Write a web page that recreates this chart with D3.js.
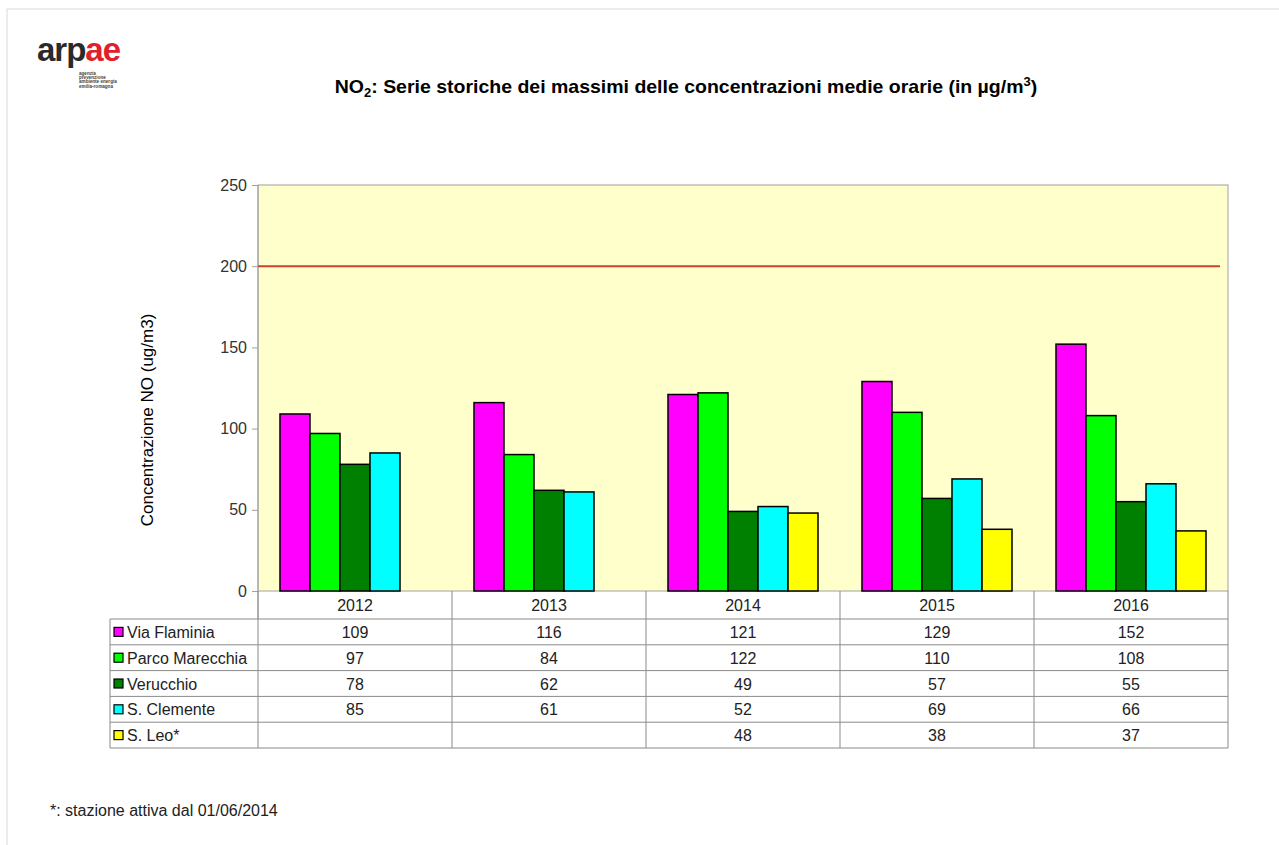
<!DOCTYPE html>
<html>
<head>
<meta charset="utf-8">
<script src="https://cdn.jsdelivr.net/npm/d3@7"></script>
<style>
  body { margin: 0; background: #fff; }
  svg { display: block; font-family: "Liberation Sans", Arial, sans-serif; }
</style>
</head>
<body>
<div id="chart"></div>
<script>
// data
const years = ["2012", "2013", "2014", "2015", "2016"];
const stations = ["Via Flaminia", "Parco Marecchia", "Verucchio", "S. Clemente", "S. Leo*"];
const stationColors = ["#ff00ff", "#00ff00", "#008000", "#00ffff", "#ffff00"];
const viaFlaminia = [109, 116, 121, 129, 152];
const parcoMarecchia = [97, 84, 122, 110, 108];
const verucchio = [78, 62, 49, 57, 55];
const sClemente = [85, 61, 52, 69, 66];
const sLeo = [null, null, 48, 38, 37];
const limitValue = 200;
const yTicks = [0, 50, 100, 150, 200, 250];

const seriesValues = [viaFlaminia, parcoMarecchia, verucchio, sClemente, sLeo];

const width = 1279, height = 845;
const plot = { left: 258, right: 1228, top: 185, bottom: 591 };
const rowH = 25.8, headerH = 28, tableLeft = 110;
const textColor = "#222";

const svg = d3.select("#chart").append("svg")
  .attr("width", width)
  .attr("height", height);

// page border (top and left)
svg.append("path")
  .attr("d", `M7,${height} V9 H${width}`)
  .attr("fill", "none")
  .attr("stroke", "#d8d8d8");

// logo
const logo = svg.append("g").attr("transform", "translate(37,61)");
const defs = svg.append("defs");
const grad = defs.append("linearGradient").attr("id", "flag");
grad.append("stop").attr("offset", "0%").attr("stop-color", "#1a9a3a");
grad.append("stop").attr("offset", "45%").attr("stop-color", "#1a9a3a");
grad.append("stop").attr("offset", "55%").attr("stop-color", "#e0202a");
grad.append("stop").attr("offset", "100%").attr("stop-color", "#e0202a");
const logoText = logo.append("text")
  .attr("font-size", 33).attr("font-weight", "bold").attr("letter-spacing", -1);
logoText.append("tspan").attr("fill", "#2a2a2a").text("arp");
logoText.append("tspan").attr("fill", "url(#flag)").text("a");
logoText.append("tspan").attr("fill", "#e0202a").text("e");
["agenzia", "prevenzione", "ambiente energia", "emilia-romagna"].forEach((t, i) => {
  logo.append("text")
    .attr("x", 42).attr("y", 14 + i * 4.2)
    .attr("font-size", 4.6).attr("font-weight", "bold").attr("fill", "#444")
    .text(t);
});

// title
const title = svg.append("text")
  .attr("x", 686).attr("y", 93)
  .attr("text-anchor", "middle")
  .attr("font-size", 18).attr("font-weight", "bold")
  .attr("fill", "#000");
title.append("tspan").text("NO");
title.append("tspan").attr("font-size", 12).attr("dy", 4).text("2");
title.append("tspan").attr("dy", -4).text(": Serie storiche dei massimi delle concentrazioni medie orarie (in µg/m");
title.append("tspan").attr("font-size", 12).attr("dy", -7).text("3");
title.append("tspan").attr("dy", 7).text(")");
{
  const bb = title.node().getBBox();
  const k = 703 / bb.width;
  title.attr("transform", `translate(686,0) scale(${k},1) translate(-686,0)`);
}

// scales
const x = d3.scaleBand().domain(years).range([plot.left, plot.right]).paddingInner(0).paddingOuter(0);
const xs = d3.scaleBand().domain(stations).range([0, x.bandwidth()]).paddingInner(0).paddingOuter(0.733);
const y = d3.scaleLinear().domain([0, 250]).range([plot.bottom, plot.top]);

// plot background
svg.append("rect")
  .attr("x", plot.left).attr("y", plot.top)
  .attr("width", plot.right - plot.left).attr("height", plot.bottom - plot.top)
  .attr("fill", "#ffffcc")
  .attr("stroke", "#a0a0a0");

// y axis
const gy = svg.append("g")
  .attr("transform", `translate(${plot.left},0)`)
  .call(d3.axisLeft(y).tickValues(yTicks).tickSize(6).tickPadding(5));
gy.select(".domain").attr("stroke", "#a0a0a0").attr("d", `M0,${plot.top}V${plot.bottom + headerH}`);
gy.selectAll(".tick line").attr("stroke", "#a0a0a0");
gy.selectAll(".tick text")
  .attr("font-size", 16).attr("fill", "#333")
  .attr("font-family", "Liberation Sans, Arial, sans-serif");

svg.append("text")
  .attr("transform", `translate(153,420) rotate(-90)`)
  .attr("text-anchor", "middle")
  .attr("font-size", 17).attr("fill", "#000")
  .text("Concentrazione NO (ug/m3)");

// limit line
svg.append("line")
  .attr("x1", plot.left).attr("x2", 1220)
  .attr("y1", y(limitValue)).attr("y2", y(limitValue))
  .attr("stroke", "#d0402e").attr("stroke-width", 2);

// bars
const bars = [];
seriesValues.forEach((vals, si) => {
  vals.forEach((v, yi) => {
    if (v != null) bars.push({ year: years[yi], station: stations[si], color: stationColors[si], value: v });
  });
});
svg.append("g").selectAll("rect")
  .data(bars)
  .join("rect")
  .attr("x", d => x(d.year) + xs(d.station))
  .attr("y", d => y(d.value))
  .attr("width", xs.bandwidth())
  .attr("height", d => y(0) - y(d.value))
  .attr("fill", d => d.color)
  .attr("stroke", "#000")
  .attr("stroke-width", 1.5);

// data table
const table = svg.append("g");
const tableTop = plot.bottom + headerH;
const tableBottom = tableTop + rowH * stations.length;
const lineColor = "#8a8a8a";

// horizontal lines
for (let i = 0; i <= stations.length; i++) {
  table.append("line")
    .attr("x1", tableLeft).attr("x2", plot.right)
    .attr("y1", tableTop + i * rowH).attr("y2", tableTop + i * rowH)
    .attr("stroke", lineColor);
}
// vertical lines
table.append("line")
  .attr("x1", tableLeft).attr("x2", tableLeft)
  .attr("y1", tableTop).attr("y2", tableBottom)
  .attr("stroke", lineColor);
years.forEach(yr => {
  table.append("line")
    .attr("x1", x(yr) + x.bandwidth()).attr("x2", x(yr) + x.bandwidth())
    .attr("y1", plot.bottom).attr("y2", tableBottom)
    .attr("stroke", lineColor);
});
table.append("line")
  .attr("x1", plot.left).attr("x2", plot.left)
  .attr("y1", plot.bottom).attr("y2", tableBottom)
  .attr("stroke", lineColor);

// year header
table.selectAll("text.year")
  .data(years)
  .join("text")
  .attr("class", "year")
  .attr("x", d => x(d) + x.bandwidth() / 2)
  .attr("y", plot.bottom + headerH / 2 + 6)
  .attr("text-anchor", "middle")
  .attr("font-size", 16).attr("fill", textColor)
  .text(d => d);

// legend keys & labels
stations.forEach((s, i) => {
  const cy = tableTop + i * rowH + rowH / 2;
  table.append("rect")
    .attr("x", 114).attr("y", cy - 4.5)
    .attr("width", 9).attr("height", 9)
    .attr("fill", stationColors[i]).attr("stroke", "#000").attr("stroke-width", 1.2);
  table.append("text")
    .attr("x", 127).attr("y", cy + 6)
    .attr("font-size", 16).attr("fill", textColor)
    .text(s);
  seriesValues[i].forEach((v, yi) => {
    if (v == null) return;
    table.append("text")
      .attr("x", x(years[yi]) + x.bandwidth() / 2)
      .attr("y", cy + 6)
      .attr("text-anchor", "middle")
      .attr("font-size", 16).attr("fill", textColor)
      .text(v);
  });
});

// footnote
svg.append("text")
  .attr("x", 50).attr("y", 816)
  .attr("font-size", 16).attr("fill", textColor)
  .text("*: stazione attiva dal 01/06/2014");
</script>
</body>
</html>
